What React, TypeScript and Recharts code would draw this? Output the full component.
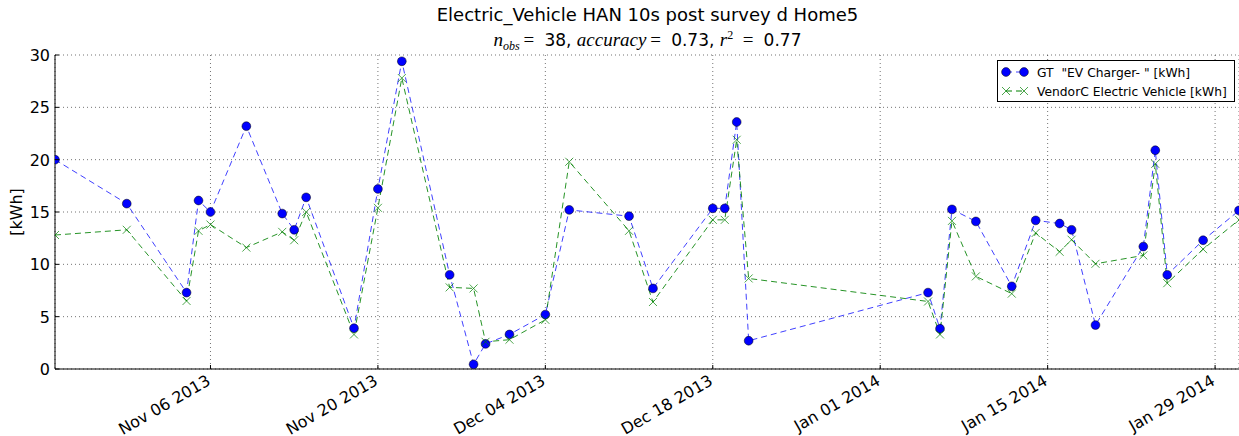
import React from "react"
import { CartesianGrid, Line, LineChart, XAxis, YAxis } from "recharts"

// Sample dates (one reading per survey day)
const dates = [
  "2013-10-24", "2013-10-30", "2013-11-04", "2013-11-05", "2013-11-06", "2013-11-09",
  "2013-11-12", "2013-11-13", "2013-11-14", "2013-11-18", "2013-11-20", "2013-11-22",
  "2013-11-26", "2013-11-28", "2013-11-29", "2013-12-01", "2013-12-04", "2013-12-06",
  "2013-12-11", "2013-12-13", "2013-12-18", "2013-12-19", "2013-12-20", "2013-12-21",
  "2014-01-05", "2014-01-06", "2014-01-07", "2014-01-09", "2014-01-12", "2014-01-14",
  "2014-01-16", "2014-01-17", "2014-01-19", "2014-01-23", "2014-01-24", "2014-01-25",
  "2014-01-28", "2014-01-31",
]

// GT "EV Charger-" [kWh]
const gtValues = [
  20.0, 15.8, 7.3, 16.1, 15.0, 23.2, 14.85, 13.3, 16.4, 3.9, 17.2, 29.4,
  9.0, 0.45, 2.4, 3.3, 5.2, 15.2, 14.6, 7.7, 15.35, 15.35, 23.6, 2.7,
  7.3, 3.85, 15.25, 14.1, 7.9, 14.2, 13.9, 13.3, 4.2, 11.7, 20.9, 9.0,
  12.3, 15.15,
]

// VendorC Electric Vehicle [kWh]
const vendorValues = [
  12.8, 13.3, 6.5, 13.2, 13.8, 11.6, 13.1, 12.3, 15.0, 3.3, 15.4, 27.8,
  7.8, 7.7, 2.6, 2.8, 4.7, 19.8, 13.2, 6.4, 14.25, 14.25, 21.9, 8.65,
  6.45, 3.3, 14.15, 8.85, 7.2, 13.0, 11.2, 12.35, 10.05, 10.85, 19.6, 8.2,
  11.45, 14.25,
]

const xTickDates = ["2013-11-06", "2013-11-20", "2013-12-04", "2013-12-18", "2014-01-01", "2014-01-15", "2014-01-29"]
const yTicks = [0, 5, 10, 15, 20, 25, 30]

const MONTHS = ["Jan", "Feb", "Mar", "Apr", "May", "Jun", "Jul", "Aug", "Sep", "Oct", "Nov", "Dec"]

const toDay = (s: string) => {
  const [y, m, d] = s.split("-").map(Number)
  return Date.UTC(y, m - 1, d) / 86400000
}

const fmtDay = (day: number) => {
  const d = new Date(day * 86400000)
  return `${MONTHS[d.getUTCMonth()]} ${String(d.getUTCDate()).padStart(2, "0")} ${d.getUTCFullYear()}`
}

const data = dates.map((s, i) => ({ t: toDay(s), gt: gtValues[i], vendor: vendorValues[i] }))
const xTicks = xTickDates.map(toDay)
const xDomain = [toDay(dates[0]), toDay(dates[dates.length - 1])]

const W = 1239
const H = 436
const BLUE = "#0000ff"
const GREEN = "#008000"
const FONT = "'DejaVu Sans', sans-serif"
const MATH = "'Liberation Serif', 'DejaVu Serif', serif"

const BottomTick = (props: any) => {
  const { x, y, payload } = props
  return (
    <g>
      <line x1={x} x2={x} y1={y} y2={y - 4} stroke="#000" />
      <text
        x={x + 1}
        y={y + 15}
        textAnchor="end"
        fontSize={16}
        fontFamily={FONT}
        fill="#000"
        transform={`rotate(-30 ${x + 1} ${y + 15})`}
      >
        {fmtDay(payload.value)}
      </text>
    </g>
  )
}

const TopTick = (props: any) => {
  const { x, y } = props
  return <line x1={x} x2={x} y1={y} y2={y + 4} stroke="#000" />
}

const LeftTick = (props: any) => {
  const { x, y, payload } = props
  return (
    <g>
      <line x1={x} x2={x + 4} y1={y} y2={y} stroke="#000" />
      <text x={x - 5} y={y + 6} textAnchor="end" fontSize={16} fontFamily={FONT} fill="#000">
        {payload.value}
      </text>
    </g>
  )
}

const RightTick = (props: any) => {
  const { x, y } = props
  return <line x1={x - 4} x2={x} y1={y} y2={y} stroke="#000" />
}

const CircleDot = (props: any) => {
  const { cx, cy, index } = props
  if (cx == null || cy == null) return <g key={index} />
  return <circle key={index} cx={cx} cy={cy} r={4.4} fill={BLUE} stroke="#000" strokeWidth={0.5} />
}

const CrossDot = (props: any) => {
  const { cx, cy, index } = props
  if (cx == null || cy == null) return <g key={index} />
  const s = 4
  return (
    <path
      key={index}
      d={`M${cx - s},${cy - s}L${cx + s},${cy + s}M${cx - s},${cy + s}L${cx + s},${cy - s}`}
      stroke={GREEN}
      strokeOpacity={0.7}
      strokeWidth={1}
      fill="none"
    />
  )
}

function Overlay() {
  return (
    <svg width={W} height={H} style={{ position: "absolute", left: 0, top: 0, pointerEvents: "none" }}>
      <text x={647.5} y={21} textAnchor="middle" fontSize={18} fontFamily={FONT} fill="#000">
        Electric_Vehicle HAN 10s post survey d Home5
      </text>
      <text x={647.5} y={46} textAnchor="middle" fontSize={17} fontFamily={FONT} fill="#000">
        <tspan fontFamily={MATH} fontStyle="italic" fontSize={19}>n</tspan>
        <tspan fontFamily={MATH} fontStyle="italic" fontSize={12} dy={4}>obs</tspan>
        <tspan fontFamily={MATH} fontSize={19} dy={-4}>{"\u2009=\u00a0"}</tspan>
        <tspan>{"\u00a038, "}</tspan>
        <tspan fontFamily={MATH} fontStyle="italic" fontSize={19}>accuracy</tspan>
        <tspan fontFamily={MATH} fontSize={19}>{"\u2009=\u00a0"}</tspan>
        <tspan>{"\u00a00.73, "}</tspan>
        <tspan fontFamily={MATH} fontStyle="italic" fontSize={19}>r</tspan>
        <tspan fontFamily={MATH} fontSize={12} dy={-7}>2</tspan>
        <tspan fontFamily={MATH} fontSize={19} dy={7}>{"\u2002=\u00a0"}</tspan>
        <tspan>{"\u00a00.77"}</tspan>
      </text>
      <text
        x={22}
        y={212}
        textAnchor="middle"
        fontSize={16}
        fontFamily={FONT}
        fill="#000"
        transform="rotate(-90 22 212)"
      >
        [kWh]
      </text>

      <g>
        <rect x={997.5} y={60.5} width={237} height={41} fill="#fff" stroke="#000" strokeWidth={1} />
        <line x1={1006} x2={1024} y1={72} y2={72} stroke={BLUE} strokeOpacity={0.75} strokeDasharray="6 4" />
        <circle cx={1006} cy={72} r={4.4} fill={BLUE} stroke="#000" strokeWidth={0.5} />
        <circle cx={1024} cy={72} r={4.4} fill={BLUE} stroke="#000" strokeWidth={0.5} />
        <text x={1037} y={76.5} fontSize={12.3} fontFamily={FONT} fill="#000">
          {"GT\u00a0\u00a0\"EV Charger- \" [kWh]"}
        </text>
        <line x1={1006} x2={1024} y1={91} y2={91} stroke={GREEN} strokeDasharray="6 4" />
        <path d="M1002,87L1010,95M1002,95L1010,87M1020,87L1028,95M1020,95L1028,87" stroke={GREEN} strokeOpacity={0.7} fill="none" />
        <text x={1037} y={95.5} fontSize={12.3} fontFamily={FONT} fill="#000">
          VendorC Electric Vehicle [kWh]
        </text>
      </g>
    </svg>
  )
}

export default function App() {
  return (
    <div style={{ position: "absolute", left: 0, top: 0, width: W, height: H, background: "#fff", fontFamily: FONT }}>
      <LineChart width={W} height={H} data={data} margin={{ top: 55, right: 0, bottom: 0, left: 0 }}>
        <CartesianGrid stroke="#000" strokeOpacity={0.55} strokeDasharray="1 3" />
        <XAxis
          dataKey="t"
          type="number"
          domain={xDomain}
          ticks={xTicks}
          height={67}
          tickSize={0}
          tickMargin={0}
          tickLine={false}
          axisLine={{ stroke: "#000" }}
          tick={BottomTick}
          interval={0}
          allowDataOverflow
        />
        <XAxis
          xAxisId="top"
          dataKey="t"
          type="number"
          orientation="top"
          domain={xDomain}
          ticks={xTicks}
          height={0}
          tickSize={0}
          tickMargin={0}
          tickLine={false}
          axisLine={{ stroke: "#000" }}
          tick={TopTick}
          interval={0}
          allowDataOverflow
        />
        <YAxis
          type="number"
          domain={[0, 30]}
          ticks={yTicks}
          width={55}
          tickSize={0}
          tickMargin={0}
          tickLine={false}
          axisLine={{ stroke: "#000" }}
          tick={LeftTick}
          interval={0}
        />
        <YAxis
          yAxisId="right"
          orientation="right"
          type="number"
          domain={[0, 30]}
          ticks={yTicks}
          width={0}
          tickSize={0}
          tickMargin={0}
          tickLine={false}
          axisLine={false}
          tick={RightTick}
          interval={0}
        />
        <Line
          type="linear"
          dataKey="gt"
          stroke={BLUE}
          strokeOpacity={0.75}
          strokeWidth={1}
          strokeDasharray="6 4"
          dot={CircleDot}
          activeDot={false}
          isAnimationActive={false}
        />
        <Line
          type="linear"
          dataKey="vendor"
          stroke={GREEN}
          strokeOpacity={0.85}
          strokeWidth={1}
          strokeDasharray="6 4"
          dot={CrossDot}
          activeDot={false}
          isAnimationActive={false}
        />
      </LineChart>
      <Overlay />
    </div>
  )
}
